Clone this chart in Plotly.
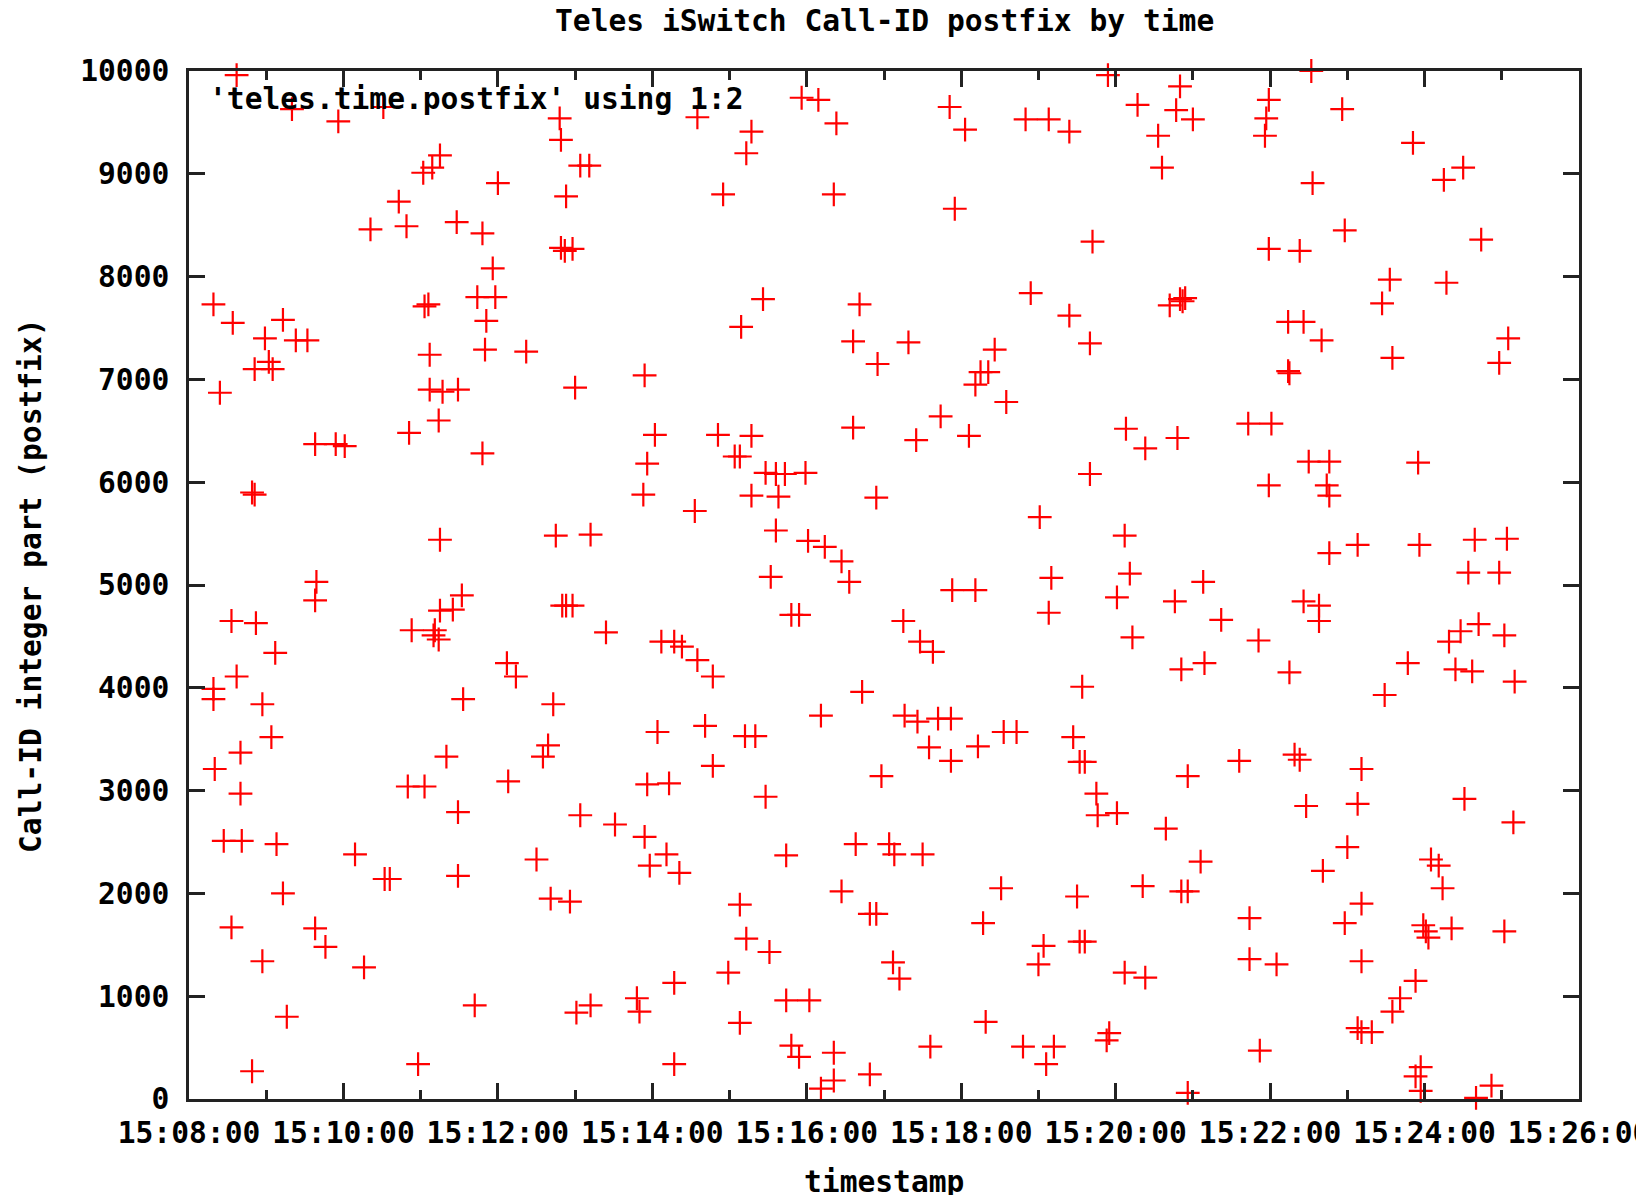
import pandas as pd
import plotly.graph_objects as go

# Elapsed seconds after 15:08:00 for each sample, and its Call-ID postfix value
offset_seconds = [
    19, 19, 19, 20, 24, 27, 33, 33, 34, 37, 37, 40, 40, 41, 49, 51, 49, 51, 52, 57,
    57, 59, 62, 65, 64, 67, 68, 73, 73, 76, 80, 83, 92, 98, 98, 99, 98, 106, 116, 114,
    121, 129, 136, 141, 151, 152, 156, 163, 169, 170, 171, 173, 178, 182, 183, 183, 186, 187, 187, 189,
    191, 194, 190, 195, 194, 195, 195, 197, 200, 205, 208, 209, 209, 209, 212, 213, 222, 224, 228, 228,
    230, 231, 236, 238, 240, 247, 248, 254, 262, 270, 275, 279, 281, 283, 285, 288, 289, 289, 292, 298,
    290, 293, 298, 293, 296, 300, 301, 304, 304, 311, 312, 312, 324, 331, 348, 350, 353, 354, 354, 356,
    356, 358, 362, 364, 367, 371, 373, 377, 377, 377, 381, 383, 393, 395, 395, 401, 407, 407, 411, 415,
    419, 424, 428, 428, 428, 429, 432, 433, 433, 437, 437, 437, 440, 446, 448, 448, 451, 452, 456, 456,
    458, 463, 464, 464, 468, 468, 474, 474, 476, 479, 481, 482, 489, 491, 491, 494, 501, 501, 503, 501,
    507, 507, 513, 516, 516, 518, 521, 523, 529, 529, 534, 534, 535, 538, 544, 547, 548, 552, 555, 556,
    559, 565, 566, 568, 570, 575, 576, 578, 582, 584, 591, 592, 592, 593, 595, 603, 606, 611, 611, 615,
    621, 613, 617, 619, 626, 631, 633, 635, 643, 648, 650, 654, 660, 661, 664, 666, 668, 668, 670, 672,
    684, 684, 687, 690, 692, 696, 692, 696, 694, 700, 700, 702, 705, 706, 713, 714, 715, 721, 721, 727,
    727, 728, 731, 733, 737, 743, 743, 741, 753, 756, 759, 762, 766, 767, 768, 770, 770, 774, 772, 771,
    771, 776, 776, 776, 780, 786, 788, 789, 802, 816, 823, 824, 824, 831, 832, 836, 837, 839, 839, 839,
    841, 845, 854, 854, 855, 855, 859, 863, 863, 866, 866, 868, 870, 872, 873, 878, 878, 880, 881, 884,
    886, 886, 886, 896, 898, 898, 900, 908, 908, 911, 911, 911, 908, 911, 919, 927, 929, 933, 935, 935,
    941, 947, 951, 953, 955, 956, 953, 957, 957, 959, 961, 963, 965, 971, 974, 975, 977, 979, 981, 984,
    988, 990, 991, 994, 997, 999, 1002, 1000, 1004, 1012, 1018, 1018, 1022, 1022, 1024, 1025, 1029, 1030,
]

postfix_values = [
    7730, 3990, 3890, 3210, 6870, 2510, 1670, 4650, 7550, 4110, 9960, 3370, 2970, 2510, 5900, 5880, 270, 7100, 4630, 1340,
    3840, 7400, 7170, 7100, 3520, 4340, 2480, 2000, 7580, 800, 9630, 7380, 7380, 6370, 4850, 5030, 1660, 1480, 9510, 6370,
    6350, 2380, 1280, 8460, 9650, 2140, 2140, 8730, 8490, 3040, 6480, 4560, 340, 9010, 3040, 7710, 7730, 6900, 7240, 9060,
    4560, 4470, 4510, 9180, 6600, 5440, 4750, 6880, 3330, 4760, 8530, 6900, 2790, 2170, 4900, 3890, 910, 7800, 8420, 6280,
    7290, 7570, 8080, 7800, 8910, 4240, 3090, 4110, 7270, 2330, 3330, 3440, 1950, 3840, 5480, 9540, 9330, 8280, 8250, 8270,
    4800, 4800, 4800, 8780, 1920, 6920, 840, 2760, 9080, 9080, 910, 5490, 4540, 2670, 980, 850, 5880, 7040, 2550, 3060,
    6180, 2270, 6460, 3570, 4450, 2380, 3070, 1130, 4450, 340, 2200, 4400, 5720, 9550, 4270, 3630, 4110, 3240, 6460, 8800,
    1230, 6250, 6250, 740, 1890, 7510, 3530, 1560, 9200, 9410, 5870, 6450, 3530, 7780, 6090, 2940, 1430, 5080, 6080, 5530,
    5860, 6080, 2370, 960, 4710, 520, 4710, 410, 9740, 6090, 5430, 960, 9720, 100, 3730, 5370, 450, 180, 9490, 8800,
    5230, 2020, 5030, 6530, 7370, 2480, 7730, 3960, 240, 1800, 1800, 5850, 7150, 3140, 2480, 1330, 2380, 1170, 4650, 3730,
    7360, 6410, 3670, 4450, 2380, 3420, 510, 4350, 3700, 6640, 9650, 3290, 3700, 4950, 8660, 9430, 6450, 4950, 6950, 7070,
    7070, 3430, 1710, 750, 7290, 2050, 3570, 6780, 3570, 510, 9530, 7840, 1310, 5660, 1490, 340, 9530, 4730, 5070, 510,
    9410, 7620, 3520, 1970, 1530, 1530, 3280, 3280, 4010, 7350, 6080, 8340, 2970, 2760, 570, 9960, 640, 2780, 4880, 1230,
    5480, 6520, 5110, 4490, 9670, 6330, 1180, 2070, 9370, 9060, 2630, 7720, 4840, 9620, 6430, 9850, 7780, 7790, 7760, 2020,
    4180, 2020, 3140, 60, 9530, 2310, 5030, 4240, 4660, 3290, 6570, 1760, 1360, 4460, 470, 9370, 9540, 9720, 5970, 8270,
    6570, 1310, 7560, 7080, 7060, 4150, 3350, 3300, 8250, 7560, 4840, 2850, 6200, 10000, 8910, 4800, 4650, 7380, 2220, 5970,
    5870, 6200, 5310, 9630, 8450, 1710, 2450, 5390, 2870, 1900, 1340, 3210, 690, 650, 650, 7740, 3930, 7970, 7210, 850,
    980, 4240, 9300, 1150, 6190, 5390, 220, 310, 80, 1690, 1630, 1570, 2330, 2270, 2050, 8940, 7940, 4450, 1660, 4180,
    4550, 9060, 2920, 5120, 4160, 5440, 4620, 10, 8360, 130, 7160, 5120, 1630, 4510, 5450, 7400, 2690, 4060,
]

x_start = "2000-01-01 15:08:00"
x_end = "2000-01-01 15:26:00"
x_tick_values = ["2000-01-01 15:%02d:00" % m for m in range(8, 27, 2)]
x_tick_labels = ["15:%02d:00" % m for m in range(8, 27, 2)]
x_minor_values = ["2000-01-01 15:%02d:00" % m for m in range(9, 26, 2)]
y_ticks = [0, 1000, 2000, 3000, 4000, 5000, 6000, 7000, 8000, 9000, 10000]

title_text = "Teles iSwitch Call-ID postfix by time"
x_title = "timestamp"
y_title = "Call-ID integer part (postfix)"
key_text = "'teles.time.postfix' using 1:2"

timestamps = pd.Timestamp(x_start) + pd.to_timedelta(offset_seconds, unit="s")

FONT = "DejaVu Sans Mono"
FS = 29.6
BLACK = "#000000"
AX = "#222222"

fig = go.Figure()
fig.add_trace(go.Scatter(
    x=timestamps, y=postfix_values, mode="markers",
    marker=dict(symbol="cross-thin", size=17, line=dict(color="#ff0000", width=2.2), color="#ff0000"),
    cliponaxis=False, showlegend=False,
))

axis_common = dict(
    showgrid=False, zeroline=False, showline=True, linecolor=AX, linewidth=2.5,
    mirror="ticks", ticks="inside", ticklen=16, tickwidth=2.5, tickcolor=AX,
    tickfont=dict(family=FONT, size=FS, color=BLACK, weight="bold"),
    ticklabeloverflow="allow", automargin=False,
)

fig.update_layout(
    width=1636, height=1187,
    margin=dict(l=181, r=65, t=63, b=96, pad=0),
    paper_bgcolor="white", plot_bgcolor="white",
    font=dict(family=FONT, size=FS, color=BLACK, weight="bold"),
    xaxis=dict(
        axis_common, type="date", range=[x_start, x_end],
        tickmode="array", tickvals=x_tick_values, ticktext=x_tick_labels,
        ticklabelstandoff=6,
        minor=dict(tickmode="array", tickvals=x_minor_values, ticks="inside", ticklen=9,
                   tickwidth=2.5, tickcolor=AX, showgrid=False),
    ),
    yaxis=dict(
        axis_common, range=[0, 10000], tickmode="array", tickvals=y_ticks,
        ticktext=[str(v) for v in y_ticks], ticklabelstandoff=11,
    ),
    annotations=[
        dict(text=title_text, xref="paper", yref="paper", x=0.5, y=1.0486,
             xanchor="center", yanchor="middle", showarrow=False,
             font=dict(family=FONT, size=FS, color=BLACK, weight="bold")),
        dict(text=x_title, xref="paper", yref="paper", x=0.5, y=-0.0807,
             xanchor="center", yanchor="middle", showarrow=False,
             font=dict(family=FONT, size=FS, color=BLACK, weight="bold")),
        dict(text=y_title, xref="paper", yref="paper", x=-0.1137, y=0.5,
             xanchor="center", yanchor="middle", textangle=-90, showarrow=False,
             font=dict(family=FONT, size=FS, color=BLACK, weight="bold")),
        dict(text=key_text, xref="paper", yref="paper", x=0.013, y=0.9728,
             xanchor="left", yanchor="middle", showarrow=False,
             font=dict(family=FONT, size=FS, color=BLACK, weight="bold")),
    ],
)

fig.write_html("out.html")
